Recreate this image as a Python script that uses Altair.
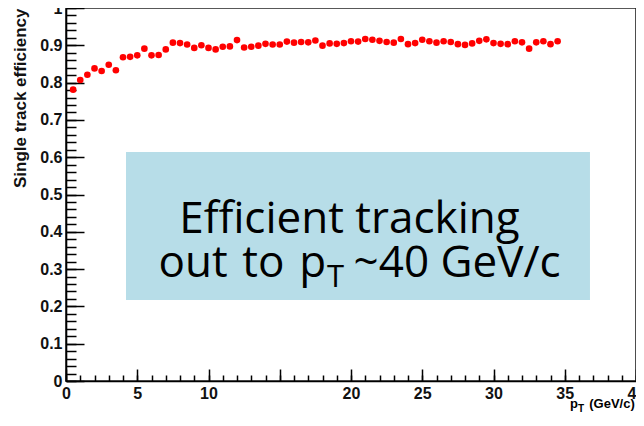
import altair as alt
import pandas as pd

# ---------------- data ----------------
pt = [0.5, 1.0, 1.5, 2.0, 2.5, 3.0, 3.5, 4.0, 4.5, 5.0, 5.5, 6.0, 6.5, 7.0, 7.5, 8.0, 8.5,
      9.0, 9.5, 10.0, 10.5, 11.0, 11.5, 12.0, 12.5, 13.0, 13.5, 14.0, 14.5, 15.0, 15.5, 16.0, 16.5, 17.0,
      17.5, 18.0, 18.5, 19.0, 19.5, 20.0, 20.5, 21.0, 21.5, 22.0, 22.5, 23.0, 23.5, 24.0, 24.5, 25.0, 25.5,
      26.0, 26.5, 27.0, 27.5, 28.0, 28.5, 29.0, 29.5, 30.0, 30.5, 31.0, 31.5, 32.0, 32.5, 33.0, 33.5, 34.0, 34.5]
eff = [0.781, 0.807, 0.821, 0.838, 0.831, 0.848, 0.833, 0.868, 0.869, 0.873, 0.891, 0.873, 0.874, 0.889, 0.907, 0.906, 0.902,
       0.893, 0.900, 0.893, 0.889, 0.896, 0.897, 0.914, 0.894, 0.896, 0.899, 0.904, 0.902, 0.902, 0.910, 0.907, 0.909, 0.908,
       0.913, 0.899, 0.905, 0.904, 0.906, 0.911, 0.910, 0.917, 0.915, 0.912, 0.909, 0.907, 0.917, 0.903, 0.906, 0.915, 0.911,
       0.907, 0.911, 0.909, 0.903, 0.901, 0.905, 0.912, 0.916, 0.906, 0.904, 0.903, 0.911, 0.908, 0.891, 0.908, 0.911, 0.903, 0.911]

x_label_values = [0, 5, 10, 20, 25, 30, 35, 40]
x_major = [0, 5, 10, 15, 20, 25, 30, 35, 40]
x_minor = [i for i in range(0, 41)]
y_major = [0, 0.1, 0.2, 0.3, 0.4, 0.5, 0.6, 0.7, 0.8, 0.9, 1.0]
y_minor = [round(i * 0.02, 2) for i in range(0, 51)]

y_title = "Single track efficiency"

# annotation box and its text (data coordinates)
box_x, box_x2, box_y, box_y2 = [4.21], [36.77], [0.614], [0.2172]
line1_text, line1_x, line1_y = ["Efficient tracking"], [19.89], [0.3976]
line2a_text, line2a_x, line2a_y = ["out\u2004to\u2004p"], [18.25], [0.2788]
line2b_text, line2b_x, line2b_y = ["T"], [18.31], [0.2528]
line2c_text, line2c_x, line2c_y = ["~40 GeV/c"], [20.18], [0.2788]

# x-axis title pieces (p, subscript T, unit)
xt_text = ["p", "(GeV/c)"]
xt_x = [35.37, 36.72]
xt_y = [-0.0724, -0.0724]
xt_sub_text, xt_sub_x, xt_sub_y = ["T"], [35.93], [-0.0818]

# ---------------- chart ----------------
W, H = 570, 373
xs = alt.Scale(domain=[0, 40], nice=False, zero=False)
ys = alt.Scale(domain=[0, 1], nice=False, zero=False)
AX_FONT = "Liberation Sans"
BIG_FONT = "Open Sans"

df = pd.DataFrame({"pt": pt, "eff": eff})

points = alt.Chart(df).mark_circle(color="#ff0000", opacity=1, size=44).encode(
    x=alt.X("pt:Q", scale=xs, axis=alt.Axis(
        orient="bottom", values=x_label_values, tickSize=0, labelPadding=4,
        domainColor="#000", domainWidth=1.6, labelFont=AX_FONT, labelFontSize=16,
        labelFontWeight="bold", labelColor="#111", title=None, grid=False,
        labelFlush=False, labelOverlap=False)),
    y=alt.Y("eff:Q", scale=ys, axis=alt.Axis(
        orient="left", values=y_major, format=".1~f", tickSize=0, labelPadding=4,
        domainColor="#000", domainWidth=1.6, labelFont=AX_FONT, labelFontSize=16,
        labelFontWeight="bold", labelColor="#111", grid=False,
        labelFlush=False, labelOverlap=False,
        title=y_title, titleAngle=270, titleX=-45.5, titleY=0, titleAlign="right",
        titleBaseline="middle", titleFont=AX_FONT, titleFontSize=17,
        titleFontWeight="bold", titleColor="#111")),
)

def tick_layer(xv, xlen, yv, ylen):
    return alt.Chart(df).mark_circle(opacity=0).encode(
        x=alt.X("pt:Q", scale=xs, axis=alt.Axis(
            orient="top", offset=-H, values=xv, tickSize=xlen, tickWidth=1.5,
            tickColor="#000", labels=False, domain=False, title=None, grid=False)),
        y=alt.Y("eff:Q", scale=ys, axis=alt.Axis(
            orient="right", offset=-W, values=yv, tickSize=ylen, tickWidth=1.5,
            tickColor="#000", labels=False, domain=False, title=None, grid=False)),
    )

major = tick_layer(x_major, 12, y_major, 18)
minor = tick_layer(x_minor, 6, y_minor, 10)

box = alt.Chart(pd.DataFrame({"x": box_x, "x2": box_x2, "y": box_y, "y2": box_y2})).mark_rect(
    color="#b7dde8").encode(
    x=alt.X("x:Q", scale=xs, axis=None), x2="x2:Q",
    y=alt.Y("y:Q", scale=ys, axis=None), y2="y2:Q")

def text_layer(t, x, y, size, align, font, weight="normal"):
    d = pd.DataFrame({"t": t, "x": x, "y": y})
    return alt.Chart(d).mark_text(font=font, fontSize=size, align=align,
                                  baseline="alphabetic", color="#000", fontWeight=weight).encode(
        x=alt.X("x:Q", scale=xs, axis=None),
        y=alt.Y("y:Q", scale=ys, axis=None),
        text="t:N")

l1 = text_layer(line1_text, line1_x, line1_y, 44, "center", BIG_FONT)
l2a = text_layer(line2a_text, line2a_x, line2a_y, 44, "right", BIG_FONT)
l2b = text_layer(line2b_text, line2b_x, line2b_y, 31, "left", BIG_FONT)
l2c = text_layer(line2c_text, line2c_x, line2c_y, 44, "left", BIG_FONT)
xt = text_layer(xt_text, xt_x, xt_y, 13, "left", AX_FONT, "bold")
xts = text_layer(xt_sub_text, xt_sub_x, xt_sub_y, 10, "left", AX_FONT, "bold")

chart = alt.layer(minor, major, points, box, l1, l2a, l2b, l2c, xt, xts).resolve_axis(
    x="independent", y="independent"
).properties(
    width=W, height=H,
    autosize=alt.AutoSizeParams(type="none"),
    padding={"left": 58, "top": 0, "right": 0, "bottom": 32},
    background="white",
).configure_view(stroke="#222", strokeWidth=1.6)

chart.save("out.html", embed_options={"renderer": "svg", "actions": False})
